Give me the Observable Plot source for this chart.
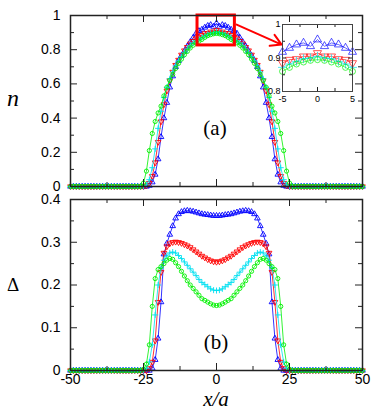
<!DOCTYPE html>
<html><head><meta charset="utf-8">
<script src="https://cdn.jsdelivr.net/npm/d3@7"></script>
<script src="https://cdn.jsdelivr.net/npm/@observablehq/plot@0.6"></script>
<style>
body{margin:0;background:#fff;}
#fig{position:relative;width:390px;height:407px;overflow:hidden;background:#fff;}
#fig svg{position:absolute;}
.lab{position:absolute;font-family:"Liberation Serif","Times New Roman",serif;line-height:1;transform:translate(-50%,-50%);white-space:nowrap;color:#000;}
</style></head><body><div id="fig"></div>
<script>
const xs = d3.range(-50, 51);

// top panel: n(x)
const nBlue = [0,0,0,0,0,0, 0,0,0,0,0,0, 0,0,0,0,0,0, 0,0,0,0,0,0,
 0,0,0,0.005,0.025,0.07,0.16,0.29,0.40,0.49,0.58,0.645,0.70,0.735,0.765,0.79,0.82,0.845,0.87,0.895,0.91,0.918,0.93,0.94,0.945,0.935,
 0.955,0.935,0.945,0.94,0.93,0.918,0.91,0.895,0.87,0.845,0.82,0.79,0.765,0.735,0.70,0.645,0.58,0.49,0.40,0.29,0.16,0.07,0.025,0.005,0,0,0,
 0,0,0,0,0,0, 0,0,0,0,0,0, 0,0,0,0,0,0, 0,0,0,0,0,0];
const nRed = [0,0,0,0,0,0, 0,0,0,0,0,0, 0,0,0,0,0,0, 0,0,0,0,0,0,
 0,0,0.005,0.02,0.06,0.14,0.26,0.38,0.48,0.56,0.62,0.67,0.71,0.74,0.77,0.795,0.815,0.835,0.85,0.865,0.875,0.885,0.895,0.897,0.905,0.905,
 0.915,0.905,0.905,0.897,0.895,0.885,0.875,0.865,0.85,0.835,0.815,0.795,0.77,0.74,0.71,0.67,0.62,0.56,0.48,0.38,0.26,0.14,0.06,0.02,0.005,0,0,
 0,0,0,0,0,0, 0,0,0,0,0,0, 0,0,0,0,0,0, 0,0,0,0,0,0];
const nCyan = [0,0,0,0,0,0, 0,0,0,0,0,0, 0,0,0,0,0,0, 0,0,0,0,0,0,
 0,0,0.01,0.04,0.11,0.22,0.34,0.44,0.52,0.58,0.63,0.67,0.705,0.735,0.76,0.785,0.805,0.825,0.84,0.852,0.862,0.872,0.882,0.89,0.898,0.90,
 0.905,0.90,0.898,0.89,0.882,0.872,0.862,0.852,0.84,0.825,0.805,0.785,0.76,0.735,0.705,0.67,0.63,0.58,0.52,0.44,0.34,0.22,0.11,0.04,0.01,0,0,
 0,0,0,0,0,0, 0,0,0,0,0,0, 0,0,0,0,0,0, 0,0,0,0,0,0];
const nGreen = [0,0,0,0,0,0, 0,0,0,0,0,0, 0,0,0,0,0,0, 0,0,0,0,0,0,
 0,0.02,0.09,0.21,0.31,0.38,0.43,0.47,0.53,0.58,0.62,0.655,0.69,0.72,0.745,0.77,0.79,0.81,0.826,0.84,0.85,0.86,0.872,0.882,0.888,0.893,
 0.895,0.893,0.888,0.882,0.872,0.86,0.85,0.84,0.826,0.81,0.79,0.77,0.745,0.72,0.69,0.655,0.62,0.58,0.53,0.47,0.43,0.38,0.31,0.21,0.09,0.02,0,
 0,0,0,0,0,0, 0,0,0,0,0,0, 0,0,0,0,0,0, 0,0,0,0,0,0];

// bottom panel: Delta(x)
const dBlue = [0,0,0,0,0,0, 0,0,0,0,0,0, 0,0,0,0,0,0, 0,0,0,0,0,0,
 0,0,0,0,0.005,0.025,0.075,0.16,0.272,0.297,0.318,0.338,0.356,0.366,0.371,0.373,0.374,0.373,0.372,0.37,0.368,0.366,0.365,0.364,0.363,0.362,
 0.362,0.362,0.363,0.364,0.365,0.366,0.368,0.37,0.372,0.373,0.374,0.373,0.371,0.366,0.356,0.338,0.318,0.297,0.272,0.16,0.075,0.025,0.005,0,0,0,0,
 0,0,0,0,0,0, 0,0,0,0,0,0, 0,0,0,0,0,0, 0,0,0,0,0,0];
const dRed = [0,0,0,0,0,0, 0,0,0,0,0,0, 0,0,0,0,0,0, 0,0,0,0,0,0,
 0,0,0,0.005,0.02,0.07,0.16,0.23,0.275,0.29,0.297,0.30,0.301,0.30,0.298,0.295,0.292,0.288,0.283,0.278,0.273,0.268,0.264,0.26,0.257,0.255,
 0.254,0.255,0.257,0.26,0.264,0.268,0.273,0.278,0.283,0.288,0.292,0.295,0.298,0.30,0.301,0.30,0.297,0.29,0.275,0.23,0.16,0.07,0.02,0.005,0,0,0,
 0,0,0,0,0,0, 0,0,0,0,0,0, 0,0,0,0,0,0, 0,0,0,0,0,0];
const dCyan = [0,0,0,0,0,0, 0,0,0,0,0,0, 0,0,0,0,0,0, 0,0,0,0,0,0,
 0,0,0.005,0.02,0.06,0.13,0.20,0.24,0.258,0.268,0.275,0.277,0.275,0.269,0.262,0.254,0.246,0.238,0.23,0.222,0.213,0.206,0.201,0.196,0.191,0.188,
 0.187,0.188,0.191,0.196,0.201,0.206,0.213,0.222,0.23,0.238,0.246,0.254,0.262,0.269,0.275,0.277,0.275,0.268,0.258,0.24,0.20,0.13,0.06,0.02,0.005,0,0,
 0,0,0,0,0,0, 0,0,0,0,0,0, 0,0,0,0,0,0, 0,0,0,0,0,0];
const dGreen = [0,0,0,0,0,0, 0,0,0,0,0,0, 0,0,0,0,0,0, 0,0,0,0,0,0,
 0,0.003,0.015,0.06,0.15,0.215,0.236,0.243,0.25,0.258,0.262,0.26,0.252,0.243,0.232,0.221,0.21,0.20,0.192,0.184,0.176,0.168,0.164,0.16,0.156,0.153,
 0.152,0.153,0.156,0.16,0.164,0.168,0.176,0.184,0.192,0.20,0.21,0.221,0.232,0.243,0.252,0.26,0.262,0.258,0.25,0.243,0.236,0.215,0.15,0.06,0.015,0.003,0,
 0,0,0,0,0,0, 0,0,0,0,0,0, 0,0,0,0,0,0, 0,0,0,0,0,0];

// ticks
const xTicks = [-50, -25, 0, 25, 50];
const xMinorTicks = [-37.5, -12.5, 12.5, 37.5];
const nTicks = [0, 0.2, 0.4, 0.6, 0.8, 1];
const nMinorTicks = [0.1, 0.3, 0.5, 0.7, 0.9];
const dTicks = [0, 0.1, 0.2, 0.3, 0.4];
const dMinorTicks = [0.05, 0.15, 0.25, 0.35];
const insetXTicks = [-5, 0, 5];
const insetXMinorTicks = [-2.5, 2.5];
const insetYTicks = [0.8, 0.9, 1];
const insetYMinorTicks = [0.85, 0.95];

// zoom annotation
const zoomBox = [{x1: -6.5, x2: 6.3, y1: 0.825, y2: 1.0}];
const zoomArrow = [{x1: 6.9, y1: 0.947, x2: 22.3, y2: 0.83}];

const seriesColors = ["#0000ff", "#ff0000", "#00e0f0", "#00f000"];
const triDown = {draw(ctx, size) {
  const s3 = Math.sqrt(3), y = Math.sqrt(size / (s3 * 3));
  ctx.moveTo(0, 2 * y); ctx.lineTo(-s3 * y, -y); ctx.lineTo(s3 * y, -y); ctx.closePath();
}};
const symbols = ["triangle", triDown, "plus", "circle"];
const frameColor = "#222";

function seriesMarks(values, {r, lw, keep, opacity = 1}) {
  return values.flatMap((vals, k) => {
    const data = xs.map((x, i) => ({x, y: vals[i]})).filter(keep);
    return [
      Plot.line(data, {x: "x", y: "y", stroke: seriesColors[k], strokeWidth: lw, strokeOpacity: opacity}),
      Plot.dot(data, {x: "x", y: "y", symbol: symbols[k], r, stroke: seriesColors[k], fill: "none", strokeWidth: 0.9, strokeOpacity: opacity})
    ];
  });
}
function frameTicks(xMaj, xMin, yMaj, yMin, W, H, maj, mn) {
  const o = {stroke: frameColor, strokeWidth: 1};
  return [
    Plot.tickX(xMaj, {x: d => d, insetTop: H - maj, ...o}),
    Plot.tickX(xMaj, {x: d => d, insetBottom: H - maj, ...o}),
    Plot.tickX(xMin, {x: d => d, insetTop: H - mn, ...o}),
    Plot.tickX(xMin, {x: d => d, insetBottom: H - mn, ...o}),
    Plot.tickY(yMaj, {y: d => d, insetRight: W - maj, ...o}),
    Plot.tickY(yMaj, {y: d => d, insetLeft: W - maj, ...o}),
    Plot.tickY(yMin, {y: d => d, insetRight: W - mn, ...o}),
    Plot.tickY(yMin, {y: d => d, insetLeft: W - mn, ...o})
  ];
}
const baseStyle = {background: "transparent", fontFamily: "'Liberation Sans', Arial, sans-serif", fontSize: "14px", color: "#000", overflow: "visible"};
const all = () => true;

const fig = document.getElementById("fig");

// top panel
const topPlot = Plot.plot({
  width: 390, height: 195, marginLeft: 70, marginRight: 28, marginTop: 15, marginBottom: 9,
  style: baseStyle,
  x: {domain: [-50, 50], axis: null}, y: {domain: [0, 1]},
  marks: [
    ...seriesMarks([nBlue, nRed, nCyan, nGreen], {r: 2.1, lw: 0.8, keep: all}),
    Plot.rect(zoomBox, {x1: "x1", x2: "x2", y1: "y1", y2: "y2", fill: "none", stroke: "#ff0000", strokeWidth: 3}),
    Plot.arrow(zoomArrow, {x1: "x1", y1: "y1", x2: "x2", y2: "y2", stroke: "#ff0000", strokeWidth: 2, headLength: 9}),
    ...frameTicks(xTicks, xMinorTicks, nTicks, nMinorTicks, 292, 171, 7, 4),
    Plot.axisY(nTicks, {anchor: "left", tickSize: 0, tickPadding: 10, tickFormat: d => String(d), label: null}),
    Plot.frame({stroke: frameColor, strokeWidth: 1.5})
  ]
});
topPlot.style.left = "0px"; topPlot.style.top = "0px";

// bottom panel
const bottomPlot = Plot.plot({
  width: 390, height: 217, marginLeft: 70, marginRight: 28, marginTop: 9, marginBottom: 37,
  style: baseStyle,
  x: {domain: [-50, 50]}, y: {domain: [0, 0.4]},
  marks: [
    ...seriesMarks([dBlue, dRed, dCyan, dGreen], {r: 2.1, lw: 0.8, keep: all}),
    ...frameTicks(xTicks, xMinorTicks, dTicks, dMinorTicks, 292, 171, 7, 4),
    Plot.axisY(dTicks, {anchor: "left", tickSize: 0, tickPadding: 10, tickFormat: d => String(d), label: null}),
    Plot.axisX(xTicks, {anchor: "bottom", tickSize: 0, tickPadding: 4, tickFormat: d => String(d), label: null}),
    Plot.frame({stroke: frameColor, strokeWidth: 1.5})
  ]
});
bottomPlot.style.left = "0px"; bottomPlot.style.top = "190px";

// inset
const insetPlot = Plot.plot({
  width: 110, height: 96, marginLeft: 32, marginRight: 8, marginTop: 10, marginBottom: 19,
  style: {...baseStyle, fontSize: "9px"},
  x: {domain: [-5, 5]}, y: {domain: [0.8, 1]},
  marks: [
    ...seriesMarks([nBlue, nRed, nCyan, nGreen], {r: 3, lw: 0.8, keep: d => Math.abs(d.x) <= 5, opacity: 0.75}),
    ...frameTicks(insetXTicks, insetXMinorTicks, insetYTicks, insetYMinorTicks, 70, 67, 4, 3),
    Plot.axisY(insetYTicks, {anchor: "left", tickSize: 0, tickPadding: 2, tickFormat: d => String(d), label: null}),
    Plot.axisX(insetXTicks, {anchor: "bottom", tickSize: 0, tickPadding: 4, tickFormat: d => String(d), label: null}),
    Plot.frame({stroke: "#444", strokeWidth: 1})
  ]
});
insetPlot.style.left = "250px"; insetPlot.style.top = "14px";

fig.append(topPlot, bottomPlot, insetPlot);

function label(html, x, y, size, italic) {
  const d = document.createElement("div");
  d.className = "lab";
  d.innerHTML = html;
  d.style.left = x + "px"; d.style.top = y + "px";
  d.style.fontSize = size + "px";
  if (italic) d.style.fontStyle = "italic";
  fig.append(d);
}
label("n", 13, 98, 24, true);
label("Δ", 13, 284, 19, false);
label("x/a", 216, 399, 21, true);
label("(a)", 215, 128, 21, false);
label("(b)", 216, 342, 21, false);
</script></body></html>
